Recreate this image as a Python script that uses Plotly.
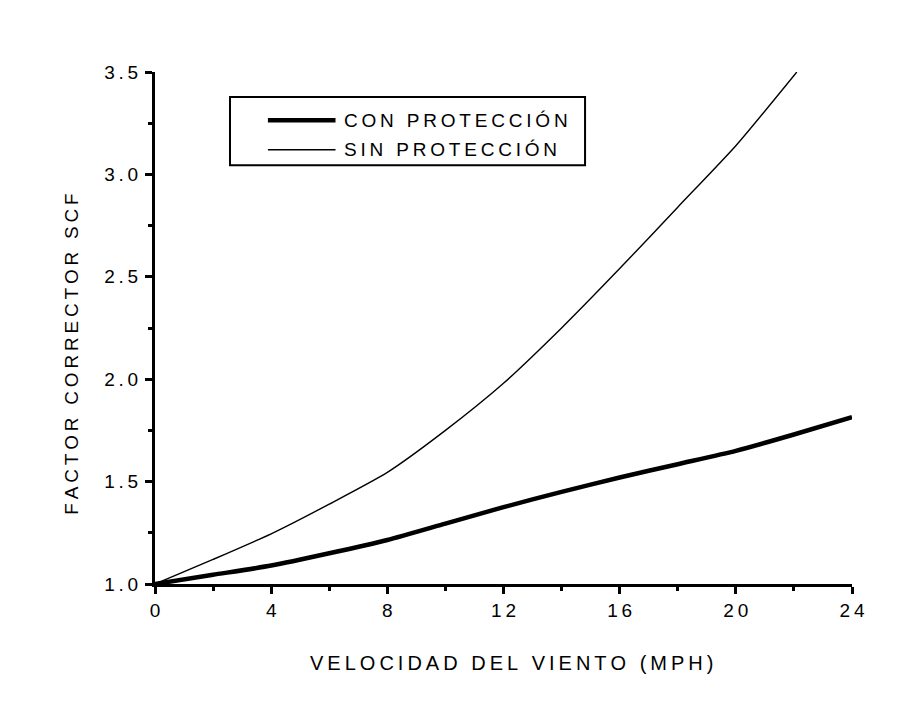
import plotly.graph_objects as go

# Wind speed (mph) and SCF correction factors
speed_con = [0, 2, 4, 6, 8, 10, 12, 14, 16, 18, 20, 22, 24]
scf_con = [1.00, 1.045, 1.09, 1.15, 1.215, 1.295, 1.375, 1.45, 1.52, 1.585, 1.65, 1.73, 1.815]

speed_sin = [0, 2, 4, 6, 8, 10, 12, 14, 16, 18, 20, 22.1]
scf_sin = [1.00, 1.12, 1.245, 1.39, 1.545, 1.75, 1.98, 2.25, 2.54, 2.84, 3.14, 3.5]

series_names = ["CON PROTECCIÓN", "SIN PROTECCIÓN"]
series_widths = [4.5, 1.4]

x_ticks = [0, 4, 8, 12, 16, 20, 24]
y_ticks = [1.0, 1.5, 2.0, 2.5, 3.0, 3.5]

FONT = "Liberation Sans, Arial, sans-serif"
THIN = "\u2009"


def spaced(s, gap=THIN):
    # widen the lettering by placing a narrow space between characters
    return gap.join(list(s))


fig = go.Figure()
for xs, ys, name, w in [(speed_con, scf_con, series_names[0], series_widths[0]),
                        (speed_sin, scf_sin, series_names[1], series_widths[1])]:
    fig.add_trace(go.Scatter(
        x=xs, y=ys, mode="lines", name=name, showlegend=False,
        line=dict(color="black", width=w, shape="spline", smoothing=0.6),
    ))

axis_common = dict(
    showgrid=False, zeroline=False, showline=True, linecolor="black", linewidth=3,
    ticks="outside", tickcolor="black", tickwidth=3, ticklen=7,
    tickfont=dict(family=FONT, size=19, color="black"),
)

fig.update_xaxes(
    range=[0, 24], tickvals=x_ticks, ticktext=[spaced(str(v)) for v in x_ticks],
    minor=dict(dtick=2, ticks="outside", ticklen=4, tickwidth=3, tickcolor="black"),
    **axis_common,
)
fig.update_yaxes(
    range=[1.0, 3.5], tickvals=y_ticks, ticktext=[spaced(f"{v:.1f}") for v in y_ticks],
    minor=dict(dtick=0.25, ticks="outside", ticklen=4, tickwidth=3, tickcolor="black"),
    ticklabelstandoff=3,
    **axis_common,
)

annotations = [
    dict(text=spaced("VELOCIDAD DEL VIENTO (MPH)"), xref="paper", yref="paper",
         x=0.511, y=-0.155, xanchor="center", yanchor="middle", showarrow=False,
         font=dict(family=FONT, size=20, color="black")),
    dict(text=spaced("FACTOR CORRECTOR SCF"), xref="paper", yref="paper", textangle=-90,
         x=-0.119, y=0.448, xanchor="center", yanchor="middle", showarrow=False,
         font=dict(family=FONT, size=19, color="black")),
]

# Legend box with line samples and labels
shapes = [dict(type="rect", xref="paper", yref="paper", x0=0.1076, x1=0.617, y0=0.818, y1=0.951,
               line=dict(color="black", width=2), fillcolor="white", layer="above")]
legend_rows = [0.906, 0.848]
for name, w, ry in zip(series_names, series_widths, legend_rows):
    shapes.append(dict(type="line", xref="paper", yref="paper", x0=0.162, x1=0.259, y0=ry, y1=ry,
                       line=dict(color="black", width=w), layer="above"))
    annotations.append(dict(text=spaced(name), xref="paper", yref="paper", x=0.269, y=ry,
                            xanchor="left", yanchor="middle", showarrow=False,
                            font=dict(family=FONT, size=19, color="black")))

fig.update_layout(
    width=903, height=705,
    margin=dict(l=155, r=51, t=72, b=121),
    paper_bgcolor="white", plot_bgcolor="white",
    showlegend=False,
    shapes=shapes,
    annotations=annotations,
)

fig.write_html("out.html")
